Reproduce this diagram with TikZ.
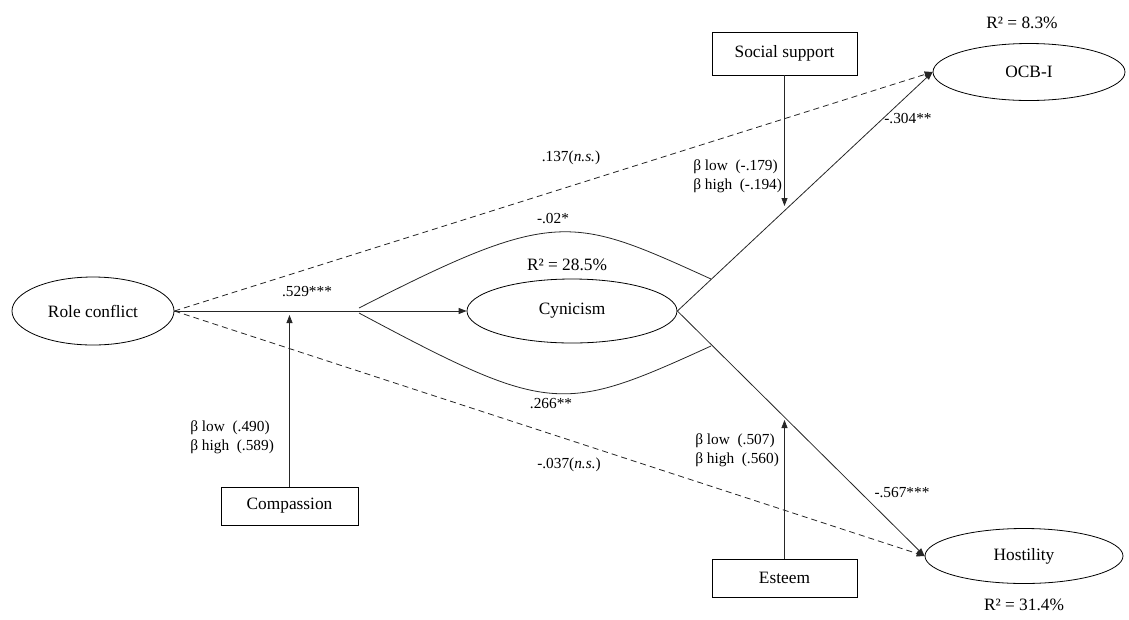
\documentclass[tikz,border=0pt]{standalone}
\usepackage{fontspec}
\setmainfont{Liberation Serif}
\usetikzlibrary{arrows.meta,shapes.geometric}
\begin{document}
\begin{tikzpicture}[x=0.75pt,y=-0.75pt,
  every node/.style={inner sep=0pt},
  conn/.style={line width=0.6pt,draw=black!85},
  arr/.style={conn,-{Triangle[length=6pt,width=4.5pt]}},
  dashline/.style={arr,dash pattern=on 4.5pt off 3pt},
  latent/.style={ellipse,draw,line width=0.6pt,font={\fontsize{13}{15}\selectfont}},
  obs/.style={rectangle,draw,line width=0.6pt,font={\fontsize{13}{15}\selectfont}},
  lab/.style={font={\fontsize{11.5}{14.5}\selectfont}},
  rsq/.style={font={\fontsize{13}{15}\selectfont}},
  beta/.style={lab,align=left,anchor=west}]
\useasboundingbox (0,0) rectangle (1129,619);
% latent variables
\node[latent,minimum width=121.5pt,minimum height=51pt] (rc) at (93,311) {Role conflict};
\node[latent,minimum width=157.5pt,minimum height=48pt] (cyn) at (572,311) {Cynicism};
\node[latent,minimum width=144pt,minimum height=42.75pt] (ocb) at (1029,72) {OCB-I};
\node[latent,minimum width=148.5pt,minimum height=41.25pt] (hos) at (1024,556) {Hostility};
% moderators
\node[obs,minimum width=108.75pt,minimum height=32.25pt] (ss) at (784.5,53.5) {Social support};
\node[obs,minimum width=102.75pt,minimum height=28.5pt] (comp) at (289.5,506) {Compassion};
\node[obs,minimum width=108.75pt,minimum height=28.5pt] (est) at (784.5,578) {Esteem};
% coordinates
\coordinate (ssT) at (784.5,206);
\coordinate (compT) at (289.5,315);
\coordinate (estT) at (784.5,420);
\coordinate (u0) at (359,308);
\coordinate (u1) at (711,279);
\coordinate (l0) at (359,313);
\coordinate (l1) at (711,346);
% paths
\draw[arr] (rc.east) -- (cyn.west);
\draw[dashline] (rc.east) -- (ocb.west);
\draw[dashline] (rc.east) -- (hos.west);
\draw[arr] (cyn.east) -- (ocb.west);
\draw[arr] (cyn.east) -- (hos.west);
\draw[arr] (ss.south) -- (ssT);
\draw[arr] (comp.north) -- (compT);
\draw[arr] (est.north) -- (estT);
\draw[conn] (u0) .. controls (556,207) and (572,216) .. (u1);
\draw[conn] (l0) .. controls (550,415) and (562,414) .. (l1);
% labels
\node[lab] (l529) at (307,292) {.529***};
\node[lab] (l137) at (571,158) {.137(\textit{n.s.})};
\node[lab] (l02) at (553,219) {-.02*};
\node[rsq] (r285) at (567,265) {R² = 28.5\%};
\node[lab] (l266) at (551,404) {.266**};
\node[lab] (l037) at (569,465) {-.037(\textit{n.s.})};
\node[lab] (l304) at (908,119) {-.304**};
\node[lab] (l567) at (902,493) {-.567***};
\node[rsq] (r83) at (1022,23) {R² = 8.3\%};
\node[rsq] (r314) at (1024,605) {R² = 31.4\%};
\node[beta] (bss) at (693,176.5) {β low~~(-.179)\\β high~~(-.194)};
\node[beta] (bcomp) at (190,437) {β low~~(.490)\\β high~~(.589)};
\node[beta] (best) at (695,450.5) {β low~~(.507)\\β high~~(.560)};
\end{tikzpicture}
\end{document}
